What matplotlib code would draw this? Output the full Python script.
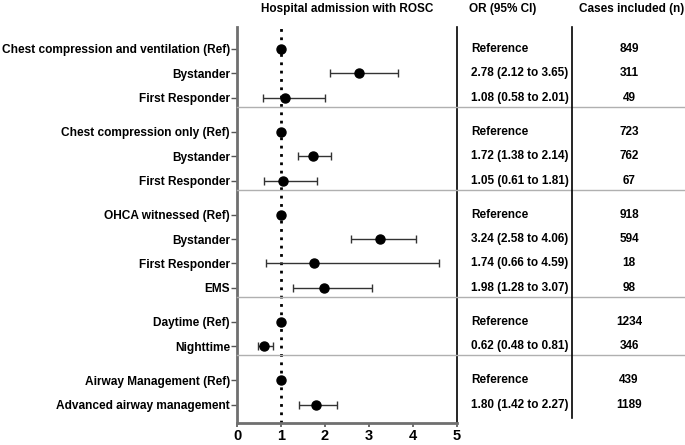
import numpy as np
import matplotlib.pyplot as plt
import matplotlib.transforms as mtransforms
from matplotlib.lines import Line2D

plt.rcParams['font.family'] = ['Liberation Sans', 'DejaVu Sans']
plt.rcParams['font.weight'] = 'bold'

# data
labels = ["Chest compression and ventilation (Ref)", "Bystander", "First Responder",
          "Chest compression only (Ref)", "Bystander", "First Responder",
          "OHCA witnessed (Ref)", "Bystander", "First Responder", "EMS",
          "Daytime (Ref)", "Nighttime",
          "Airway Management (Ref)", "Advanced airway management"]
group_sizes = [3, 3, 4, 2, 2]
odds = [1, 2.78, 1.08, 1, 1.72, 1.05, 1, 3.24, 1.74, 1.98, 1, 0.62, 1, 1.80]
ci_low = [np.nan, 2.12, 0.58, np.nan, 1.38, 0.61, np.nan, 2.58, 0.66, 1.28, np.nan, 0.48, np.nan, 1.42]
ci_high = [np.nan, 3.65, 2.01, np.nan, 2.14, 1.81, np.nan, 4.06, 4.59, 3.07, np.nan, 0.81, np.nan, 2.27]
or_text = ["Reference", "2.78 (2.12 to 3.65)", "1.08 (0.58 to 2.01)",
           "Reference", "1.72 (1.38 to 2.14)", "1.05 (0.61 to 1.81)",
           "Reference", "3.24 (2.58 to 4.06)", "1.74 (0.66 to 4.59)", "1.98 (1.28 to 3.07)",
           "Reference", "0.62 (0.48 to 0.81)",
           "Reference", "1.80 (1.42 to 2.27)"]
cases = [849, 311, 49, 723, 762, 67, 918, 594, 18, 98, 1234, 346, 439, 1189]

# row positions with a gap between groups
gap = 0.4
ypos = []
seps = []
y = 0.0
for g in group_sizes:
    for i in range(g):
        ypos.append(y)
        y += 1
    seps.append(ypos[-1] + 0.37)
    y += gap
ypos = np.array(ypos)
seps = seps[:-1]

odds = np.array(odds)
lo = np.array(ci_low)
hi = np.array(ci_high)
err = np.vstack([odds - lo, hi - odds])
err = np.nan_to_num(err)

fig = plt.figure(figsize=(6.85, 4.45), dpi=100)
ax = fig.add_axes([237/685, 1 - 423/445, 220/685, 396/445])

ax.axvline(1, color='black', linestyle=(0, (1, 2)), linewidth=2, zorder=1)
ax.errorbar(odds, ypos, xerr=err, fmt='o', color='black', ecolor='#333333',
            elinewidth=1, capsize=3, capthick=1, markersize=6.5, zorder=3)

ax.set_xlim(0, 5)
ax.set_ylim(ypos[-1] + 0.75, -0.9)
ax.set_xticks(range(6))
ax.set_yticks(ypos)
ax.set_yticklabels(labels, fontsize=8.55, fontweight='bold')
for lab in ax.get_xticklabels():
    lab.set_fontsize(10.5)
    lab.set_fontweight('bold')
ax.tick_params(axis='y', length=4, width=1, color='#555555', pad=1)
ax.tick_params(axis='x', length=3, width=1.2, color='#555555', pad=1)
ax.spines['top'].set_visible(False)
ax.spines['left'].set_color('#6f6f6f')
ax.spines['left'].set_linewidth(2)
ax.spines['bottom'].set_color('#6f6f6f')
ax.spines['bottom'].set_linewidth(2)
ax.spines['right'].set_color('black')
ax.spines['right'].set_linewidth(1.2)

trans = mtransforms.blended_transform_factory(fig.transFigure, ax.transData)

# group separators across plot and table
for s in seps:
    fig.add_artist(Line2D([237/685, 1.0], [s, s], transform=trans,
                          color='#b0b0b0', linewidth=1))

# table divider
fig.add_artist(Line2D([572/685, 572/685], [-0.9, ypos[-1] + 0.55], transform=trans,
                      color='black', linewidth=1.2))

for yy, t, n in zip(ypos, or_text, cases):
    fig.text(471/685, yy, t, transform=trans, ha='left', va='center', fontsize=8.5)
    fig.text(629/685, yy, str(n), transform=trans, ha='center', va='center', fontsize=8.5)

fig.text(347/685, 1 - 9/445, "Hospital admission with ROSC", ha='center', va='center', fontsize=8.5)
fig.text(469/685, 1 - 9/445, "OR (95% CI)", ha='left', va='center', fontsize=8.5)
fig.text(632/685, 1 - 9/445, "Cases included (n)", ha='center', va='center', fontsize=8.5)

fig.savefig("out.png", dpi=100)
